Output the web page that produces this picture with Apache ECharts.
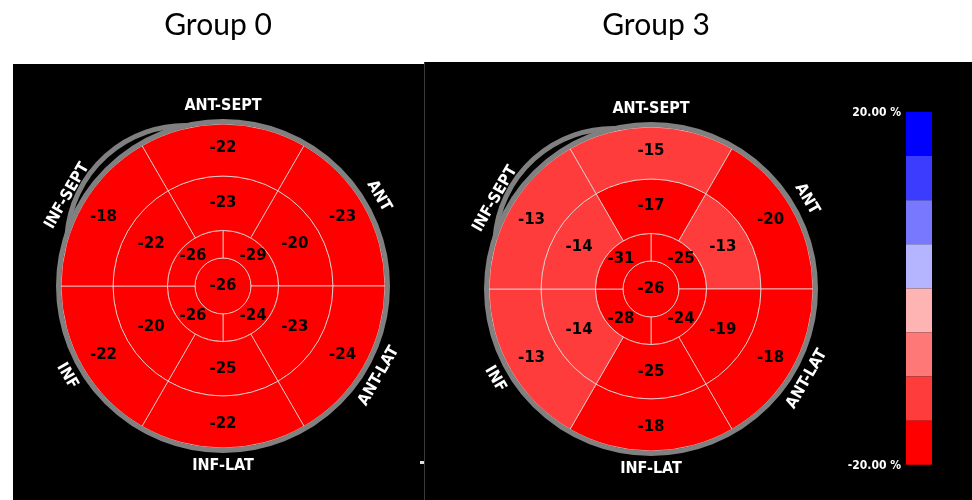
<!DOCTYPE html>
<html><head><meta charset="utf-8">
<script src="https://cdn.jsdelivr.net/npm/echarts@6/dist/echarts.min.js"></script>
<style>html,body{margin:0;padding:0;background:#fff}#chart{width:972px;height:500px}</style>
</head><body><div id="chart"></div>
<script>
// ---------------- data ----------------
const groupNames = ['Group 0', 'Group 3'];
// region labels, clockwise from top
const regionLabels = ['ANT-SEPT', 'ANT', 'ANT-LAT', 'INF-LAT', 'INF', 'INF-SEPT'];
// basal & mid segments, same order as regionLabels
const g0Basal = [-22, -23, -24, -22, -22, -18];
const g0Mid = [-23, -20, -23, -25, -20, -22];
// apical segments: upper-right, lower-right, lower-left, upper-left
const g0Apical = [-29, -24, -26, -26];
const g0Apex = [-26];
const g3Basal = [-15, -20, -18, -18, -13, -13];
const g3Mid = [-17, -13, -19, -25, -14, -14];
const g3Apical = [-25, -24, -28, -31];
const g3Apex = [-26];
// colour scale
const scaleBreaks = [-20, -15, -10, -5, 0, 5, 10, 15, 20];
const scaleColors = ['#ff0000', '#ff3c3c', '#ff7878', '#ffb4b4', '#b4b4ff', '#7878ff', '#3c3cff', '#0000ff'];
const scaleLabels = ['20.00 %', '-20.00 %'];

// ---------------- layout ----------------
const CENTERS = [[223, 286], [651, 289]];
const RADIUS = 162;
const RINGS = [
  { n: 1, r0: 0,     r1: 0.173, lr: 0,     off: 0 },
  { n: 4, r0: 0.173, r1: 0.343, lr: 0.262, off: 0 },
  { n: 6, r0: 0.343, r1: 0.679, lr: 0.512, off: -30 },
  { n: 6, r0: 0.679, r1: 1,     lr: 0.852, off: -30 }
];

function buildData(apex, apical, mid, basal) {
  const out = [];
  apex.forEach((v, i) => out.push([0, i, v]));
  apical.forEach((v, i) => out.push([1, i, v]));
  mid.forEach((v, i) => out.push([2, i, v]));
  basal.forEach((v, i) => out.push([3, i, v]));
  return out;
}
const groupData = [
  buildData(g0Apex, g0Apical, g0Mid, g0Basal),
  buildData(g3Apex, g3Apical, g3Mid, g3Basal)
];

function norm(a) { return ((a % 360) + 360) % 360; }

function renderItem(params, api) {
  const ring = RINGS[api.value(0)];
  const seg = api.value(1);
  const val = api.value(2);
  const c = api.coord([0, 0]);
  const dist = (p) => Math.hypot(p[0] - c[0], p[1] - c[1]);
  const r0 = dist(api.coord([ring.r0, 0]));
  const r1 = dist(api.coord([ring.r1, 0]));
  const step = 360 / ring.n;
  const a0 = ring.off + seg * step, a1 = a0 + step, am = a0 + step / 2;
  const scr = (a) => { const p = api.coord([1, norm(a)]); return Math.atan2(p[1] - c[1], p[0] - c[0]); };
  let sa, ea;
  if (ring.n === 1) { sa = 0; ea = Math.PI * 2; }
  else { sa = scr(a0); ea = scr(a1); if (ea <= sa) ea += Math.PI * 2; }
  const lp = ring.n === 1 ? c : api.coord([ring.lr, norm(am)]);
  return {
    type: 'group',
    children: [
      { type: 'sector', shape: { cx: c[0], cy: c[1], r0: r0, r: r1, startAngle: sa, endAngle: ea, clockwise: true },
        style: { fill: api.visual('color'), stroke: 'rgba(225,225,225,0.75)', lineWidth: 1 } },
      { type: 'text', x: lp[0], y: lp[1], z2: 10,
        style: { text: String(val), align: 'center', verticalAlign: 'middle', fill: '#000',
                 font: 'bold 15px "DejaVu Sans"' } }
    ]
  };
}

// ---------------- graphics ----------------
const graphics = [
  { type: 'rect', z: -10, shape: { x: 13, y: 64, width: 411, height: 436 }, style: { fill: '#000' } },
  { type: 'rect', z: -10, shape: { x: 424, y: 62, width: 548, height: 438 }, style: { fill: '#000' } },
  { type: 'line', z: -9, shape: { x1: 424.5, y1: 62, x2: 424.5, y2: 500 }, style: { stroke: '#3a3a3a', lineWidth: 1 } },
  { type: 'rect', z: -9, shape: { x: 420, y: 461, width: 4, height: 3 }, style: { fill: '#ddd' } }
];
const RING_R = 164.5;
CENTERS.forEach((c, g) => {
  graphics.push({ type: 'circle', z: 50, shape: { cx: c[0], cy: c[1], r: RING_R },
    style: { fill: null, stroke: '#808080', lineWidth: 5 } });
  // extra septal arc (upper left)
  const phi = 132 * Math.PI / 180, alpha = 30 * Math.PI / 180, d = 56.5, R2 = 118.5;
  const cc = [c[0] + d * Math.cos(phi), c[1] - d * Math.sin(phi)];
  const pL = [c[0] + RING_R * Math.cos(phi + alpha), c[1] - RING_R * Math.sin(phi + alpha)];
  const pT = [c[0] + RING_R * Math.cos(phi - alpha), c[1] - RING_R * Math.sin(phi - alpha)];
  graphics.push({ type: 'arc', z: 50, shape: { cx: cc[0], cy: cc[1], r: R2,
      startAngle: Math.atan2(pL[1] - cc[1], pL[0] - cc[0]), endAngle: Math.atan2(pT[1] - cc[1], pT[0] - cc[0]), clockwise: true },
    style: { fill: null, stroke: '#808080', lineWidth: 5 } });
  // region labels
  regionLabels.forEach((lab, i) => {
    const th = 90 - i * 60; // math degrees
    let thn = ((th + 180) % 360 + 360) % 360 - 180;
    const rot = thn > 0 ? thn - 90 : thn + 90;
    const rad = thn * Math.PI / 180;
    graphics.push({ type: 'text', z: 60, x: c[0] + 180 * Math.cos(rad), y: c[1] - 180 * Math.sin(rad),
      rotation: rot * Math.PI / 180,
      style: { text: lab, align: 'center', verticalAlign: 'middle', fill: '#fff',
               font: 'bold 16px "DejaVu Sans Condensed"' } });
  });
});
// titles
const TITLE_X = [218, 656];
groupNames.forEach((t, g) => {
  graphics.push({ type: 'text', z: 60, x: TITLE_X[g], y: 25,
    style: { text: t, align: 'center', verticalAlign: 'middle', fill: '#000', font: '30px Lato' } });
});
// colour scale labels
graphics.push({ type: 'text', z: 60, x: 901, y: 113, style: { text: scaleLabels[0], align: 'right', verticalAlign: 'middle', fill: '#fff', font: 'bold 12px "DejaVu Sans Condensed"' } });
graphics.push({ type: 'text', z: 60, x: 901, y: 466, style: { text: scaleLabels[1], align: 'right', verticalAlign: 'middle', fill: '#fff', font: 'bold 12px "DejaVu Sans Condensed"' } });

const pieces = scaleColors.map((col, i) => {
  const p = { color: col };
  if (i > 0) p.gte = scaleBreaks[i];
  if (i < scaleColors.length - 1) p.lt = scaleBreaks[i + 1];
  return p;
});

const chart = echarts.init(document.getElementById('chart'), null, { renderer: 'canvas' });
chart.setOption({
  animation: false,
  backgroundColor: '#fff',
  polar: CENTERS.map(c => ({ center: c, radius: RADIUS })),
  angleAxis: CENTERS.map((c, i) => ({ polarIndex: i, type: 'value', min: 0, max: 360, startAngle: 90, clockwise: true, show: false })),
  radiusAxis: CENTERS.map((c, i) => ({ polarIndex: i, type: 'value', min: 0, max: 1, show: false })),
  visualMap: {
    type: 'piecewise', dimension: 2, seriesIndex: [0, 1], pieces: pieces,
    orient: 'vertical', itemSymbol: 'rect', itemWidth: 26, itemHeight: 44.1, itemGap: 0,
    showLabel: false, left: 906, top: 112, padding: 0, hoverLink: false, selectedMode: false
  },
  graphic: graphics,
  series: groupData.map((data, g) => ({
    type: 'custom', coordinateSystem: 'polar', polarIndex: g, renderItem: renderItem,
    data: data, silent: true
  }))
});
</script></body></html>
